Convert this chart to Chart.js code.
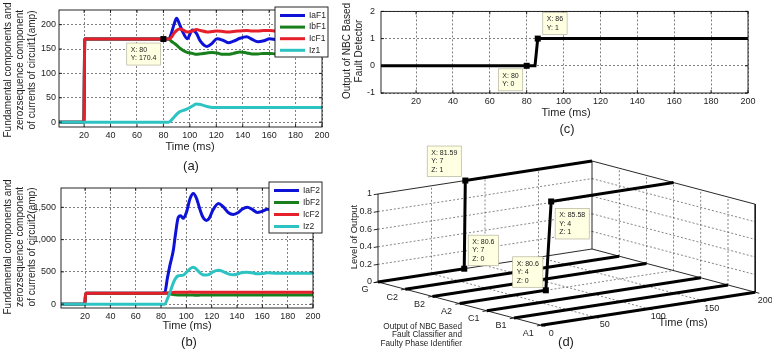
<!DOCTYPE html>
<html>
<head>
<meta charset="utf-8">
<script src="https://cdn.jsdelivr.net/npm/chart.js@4.4.0/dist/chart.umd.min.js"></script>
<style>
html, body { margin: 0; padding: 0; background: #fff; }
#wrap { position: relative; width: 772px; height: 353px; overflow: hidden; }
canvas { position: absolute; left: 0; top: 0; }
</style>
</head>
<body>
<div id="wrap">
  <canvas id="chartA" width="772" height="353"></canvas>
  <canvas id="chartB" width="772" height="353"></canvas>
  <canvas id="chartC" width="772" height="353"></canvas>
  <canvas id="chartD" width="772" height="353"></canvas>
</div>
<script>
// (a) currents of circuit 1
const timeA = [1, 19.8, 20.5, 40, 60, 80, 84, 86, 88, 90, 92, 95, 98, 102, 105, 108, 113, 117, 120.5, 125, 129, 133, 138, 143, 147, 151.5, 156, 160.5, 165, 170, 180, 190, 200]
const iaF1 = [0, 0, 170.4, 170.4, 170.4, 170.4, 170.4, 182, 200, 213, 202, 183, 171, 189, 182, 166, 155, 162, 171, 168, 163, 166, 172, 175, 170, 165, 167, 171, 169, 167, 168, 169, 168]
const ibF1 = [0, 0, 170.4, 170.4, 170.4, 170.4, 170.4, 166, 162, 158, 153, 147, 143, 141, 139, 140, 142, 143, 142, 139, 139, 141, 144, 142, 140, 140, 141, 141, 140, 140, 140, 140, 140]
const icF1 = [0, 0, 170.4, 170.4, 170.4, 170.4, 170.4, 174, 182, 188, 191, 189, 185, 187, 190, 188, 185, 186, 187, 186, 185, 186, 187, 188, 187, 187, 188, 188, 187, 188, 188, 188, 188]
const iz1 = [0, 0, 0, 0, 0, 0, 0, 4, 10, 16, 21, 24, 27, 33, 37, 36, 32, 30, 30, 30, 30, 30, 30, 30, 30, 30, 30, 30, 30, 30, 30, 30, 30]
const timeTicks = [20, 40, 60, 80, 100, 120, 140, 160, 180, 200]
const ampTicksA = [0, 50, 100, 150, 200]
const tipsA = [{ x: 80, y: 170.4 }]

// (b) currents of circuit 2
const timeB = [1, 19.8, 20.5, 40, 60, 80, 83, 85, 87, 89.7, 91.5, 93.6, 95.5, 97.6, 100, 103, 105.5, 108, 111, 113, 115.8, 118, 121, 125.4, 129, 133, 137, 141, 144, 148, 152, 156, 160, 164, 170, 180, 190, 200]
const iaF2 = [0, 0, 170, 170, 170, 170, 185, 400, 600, 835, 1100, 1345, 1370, 1330, 1420, 1640, 1715, 1640, 1450, 1350, 1298, 1330, 1460, 1560, 1510, 1420, 1390, 1420, 1470, 1500, 1470, 1420, 1440, 1470, 1460, 1455, 1460, 1455]
const ibF2 = [0, 0, 170, 170, 170, 170, 170, 168, 160, 150, 145, 142, 140, 140, 141, 142, 140, 138, 140, 141, 140, 140, 141, 142, 140, 140, 141, 140, 140, 141, 140, 140, 140, 140, 140, 140, 140, 140]
const icF2 = [0, 0, 170, 170, 170, 170, 170, 172, 176, 182, 186, 186, 184, 183, 185, 187, 186, 184, 183, 184, 185, 186, 185, 184, 184, 185, 186, 185, 184, 184, 185, 185, 185, 185, 185, 185, 185, 185]
const iz2 = [0, 0, 0, 0, 0, 0, 0, 80, 180, 330, 400, 440, 445, 450, 490, 550, 572, 540, 480, 455, 450, 460, 500, 525, 505, 470, 455, 470, 490, 495, 485, 470, 475, 485, 480, 478, 480, 480]
const ampTicksB = [0, 500, 1000, 1500]

// (c) fault detector output
const timeC = [1, 80, 84.5, 86, 200]
const detector = [0, 0, 0, 1, 1]
const outTicksC = [-1, 0, 1, 2]
const tipsC = [{ x: 86, y: 1 }, { x: 80, y: 0 }]

// (d) classifier output, y = 1..7
const classLabels = ["A1", "B1", "C1", "A2", "B2", "C2", "G"]
const flatTime = [0, 200]
const flatLevel = [0, 0]
const timeG = [0, 80.6, 81.59, 200]
const levelG = [0, 0, 1, 1]
const timeA2 = [0, 80.6, 85.58, 200]
const levelA2 = [0, 0, 1, 1]
const timeTicksD = [0, 50, 100, 150, 200]
const levelTicks = [0, 0.2, 0.4, 0.6, 0.8, 1]
const tipsD = [
    { x: 81.59, y: 7, z: 1 },
    { x: 80.6, y: 7, z: 0 },
    { x: 80.6, y: 4, z: 0 },
    { x: 85.58, y: 4, z: 1 },
]

const FONT = '"Liberation Sans", Arial, Helvetica, sans-serif'
const INK = "#1e1e1e"

const series = (times, values) => times.map((t, i) => ({ x: t, y: values[i] }))

const drawText = (ctx, chart, t, locate) => {
    let x = t.x
    let y = t.y
    if (t.at) {
        const p = locate(chart, t.at)
        x = p.x + (t.dx || 0)
        y = p.y + (t.dy || 0)
    }
    const size = t.size || 10
    const lines = [].concat(t.text)
    const lh = t.lh || size * 1.2
    ctx.save()
    ctx.font = `${size}px ${FONT}`
    ctx.fillStyle = INK
    ctx.textAlign = t.align || "center"
    ctx.textBaseline = "middle"
    ctx.translate(x, y)
    if (t.rot) ctx.rotate(t.rot)
    lines.forEach((line, i) => ctx.fillText(line, 0, (i - (lines.length - 1) / 2) * lh))
    ctx.restore()
}

const drawTip = (ctx, m, tip) => {
    ctx.save()
    ctx.font = `7px ${FONT}`
    const w = Math.max(...tip.lines.map((l) => ctx.measureText(l).width)) + 8
    const h = tip.lines.length * 8.5 + 5
    const bx = tip.side === "right" ? m.x + tip.gx : m.x - tip.gx - w
    const by = tip.vert === "down" ? m.y + tip.gy : m.y - tip.gy - h
    ctx.fillStyle = "#ffffe1"
    ctx.fillRect(bx, by, w, h)
    ctx.strokeStyle = "#b4b49c"
    ctx.lineWidth = 0.7
    ctx.strokeRect(bx, by, w, h)
    ctx.fillStyle = "#222"
    ctx.textAlign = "left"
    ctx.textBaseline = "middle"
    tip.lines.forEach((l, i) => ctx.fillText(l, bx + 4, by + 6.8 + i * 8.5))
    ctx.fillStyle = "#000"
    ctx.fillRect(m.x - 3, m.y - 3, 6, 6)
    ctx.restore()
}

const drawLegend = (ctx, chart, lg) => {
    ctx.save()
    ctx.fillStyle = "#fff"
    ctx.fillRect(lg.x, lg.y, lg.w, lg.h)
    ctx.strokeStyle = "#111"
    ctx.lineWidth = 0.9
    ctx.strokeRect(lg.x, lg.y, lg.w, lg.h)
    ctx.font = `8.5px ${FONT}`
    ctx.textAlign = "left"
    ctx.textBaseline = "middle"
    chart.data.datasets.forEach((ds, i) => {
        const yy = lg.y + lg.first + i * lg.step
        ctx.strokeStyle = ds.borderColor
        ctx.lineWidth = 3
        ctx.beginPath()
        ctx.moveTo(lg.l0, yy)
        ctx.lineTo(lg.l1, yy)
        ctx.stroke()
        ctx.fillStyle = INK
        ctx.fillText(ds.label, lg.tx, yy)
    })
    ctx.restore()
}

const locate2d = (chart, p) => ({
    x: chart.scales.x.getPixelForValue(p.x),
    y: chart.scales.y.getPixelForValue(p.y),
})

const makeDecor = (cfg) => ({
    id: "decor",
    afterDatasetsDraw(chart) {
        const ctx = chart.ctx
        const a = chart.chartArea
        const locate = cfg.locate || locate2d
        if (cfg.frame) {
            const { x, y } = chart.scales
            ctx.save()
            ctx.strokeStyle = "#111"
            ctx.lineWidth = 0.9
            ctx.strokeRect(a.left, a.top, a.right - a.left, a.bottom - a.top)
            ctx.beginPath()
            x.ticks.forEach((tk) => {
                const px = x.getPixelForValue(tk.value)
                ctx.moveTo(px, a.bottom)
                ctx.lineTo(px, a.bottom - 3)
                ctx.moveTo(px, a.top)
                ctx.lineTo(px, a.top + 3)
            })
            y.ticks.forEach((tk) => {
                const py = y.getPixelForValue(tk.value)
                ctx.moveTo(a.left, py)
                ctx.lineTo(a.left + 3, py)
                ctx.moveTo(a.right, py)
                ctx.lineTo(a.right - 3, py)
            })
            ctx.stroke()
            ctx.restore()
        }
        if (cfg.legend) drawLegend(ctx, chart, cfg.legend)
        ;(cfg.tips || []).forEach((tip) => drawTip(ctx, locate(chart, tip.at), tip))
        ;(cfg.texts || []).forEach((t) => drawText(ctx, chart, t, locate))
    },
})

const tickScale = (min, max, ticks, size, padding) => ({
    type: "linear",
    min,
    max,
    afterBuildTicks: (s) => {
        s.ticks = ticks.map((v) => ({ value: v }))
    },
    afterFit: (s) => {
        if (s.isHorizontal()) s.height = size
        else s.width = size
    },
    grid: { color: "#2a2a2a", lineWidth: 0.6, drawTicks: false },
    border: { display: false, dash: [2, 2] },
    ticks: {
        color: INK,
        font: { family: FONT, size: 9 },
        padding,
        autoSkip: false,
        maxRotation: 0,
    },
})

const curve = (label, times, values, color, order) => ({
    label,
    data: series(times, values),
    borderColor: color,
    borderWidth: 3,
    pointRadius: 0,
    cubicInterpolationMode: "monotone",
    order,
})

const lineChart = (id, datasets, scales, padding, decor) =>
    new Chart(document.getElementById(id), {
        type: "line",
        data: { datasets },
        options: {
            animation: false,
            responsive: false,
            layout: { padding },
            plugins: { legend: { display: false }, tooltip: { enabled: false } },
            scales,
        },
        plugins: [makeDecor(decor)],
    })

const BLUE = "#0d12d6"
const GREEN = "#17801c"
const RED = "#e5202a"
const CYAN = "#2dc3c3"
const tipLines = (p) => ["X: " + p.x, "Y: " + p.y].concat(p.z === undefined ? [] : ["Z: " + p.z])

// ---- (a)
lineChart(
    "chartA",
    [
        curve("IaF1", timeA, iaF1, BLUE, 4),
        curve("IbF1", timeA, ibF1, GREEN, 3),
        curve("IcF1", timeA, icF1, RED, 2),
        curve("Iz1", timeA, iz1, CYAN, 1),
    ],
    { x: tickScale(1, 200, timeTicks, 20, 3), y: tickScale(-10, 230, ampTicksA, 30, 3) },
    { left: 29, top: 10, right: 450, bottom: 206 },
    {
        frame: true,
        legend: { x: 275, y: 7, w: 53, h: 50, first: 8.5, step: 11.6, l0: 280, l1: 305, tx: 309 },
        tips: [{ at: tipsA[0], lines: tipLines(tipsA[0]), side: "left", gx: 3, vert: "down", gy: 4 }],
        texts: [
            { text: ["Fundamental components and", "zerozsequence component", "of currents of circuit1(amp)"], x: 20, y: 70, rot: -Math.PI / 2, size: 10, lh: 12 },
            { text: "Time (ms)", x: 190, y: 147, size: 11 },
            { text: "(a)", x: 191, y: 166, size: 13 },
        ],
    }
)

// ---- (b)
lineChart(
    "chartB",
    [
        curve("IaF2", timeB, iaF2, BLUE, 4),
        curve("IbF2", timeB, ibF2, GREEN, 3),
        curve("IcF2", timeB, icF2, RED, 2),
        curve("Iz2", timeB, iz2, CYAN, 1),
    ],
    { x: tickScale(1, 200, timeTicks, 20, 3), y: tickScale(-60, 1800, ampTicksB, 30, 5) },
    { left: 31, top: 188, right: 459, bottom: 25 },
    {
        frame: true,
        legend: { x: 269, y: 182, w: 53, h: 51, first: 8.5, step: 12, l0: 274, l1: 299, tx: 303 },
        texts: [
            { text: ["Fundamental components and", "zerozsequence component", "of currents of circuit2(amp)"], x: 20, y: 247, rot: -Math.PI / 2, size: 10, lh: 12 },
            { text: "Time (ms)", x: 187, y: 326, size: 11 },
            { text: "(b)", x: 189, y: 342, size: 13 },
        ],
    }
)

// ---- (c)
lineChart(
    "chartC",
    [
        {
            label: "detector",
            data: series(timeC, detector),
            borderColor: "#000",
            borderWidth: 3,
            pointRadius: 0,
            tension: 0,
        },
    ],
    { x: tickScale(1, 200, timeTicks, 20, 3), y: tickScale(-1, 2, outTicksC, 30, 6) },
    { left: 351, top: 9, right: 24, bottom: 240 },
    {
        frame: true,
        tips: [
            { at: tipsC[0], lines: tipLines(tipsC[0]), side: "right", gx: 5, vert: "up", gy: 4 },
            { at: tipsC[1], lines: tipLines(tipsC[1]), side: "left", gx: 4, vert: "down", gy: 3 },
        ],
        texts: [
            { text: ["Output of NBC Based", "Fault Detector"], x: 353, y: 51, rot: -Math.PI / 2, size: 10, lh: 12 },
            { text: "Time (ms)", x: 566, y: 113, size: 11 },
            { text: "(c)", x: 567, y: 129, size: 13 },
        ],
    }
)

// ---- (d) 3-D view projected onto the canvas plane
const P0 = { x: 378, y: 282 } // (time 0, class G, level 0)
const TV = { x: 1.07, y: -0.165 } // per ms
const CV = { x: 27.2, y: 7.2 } // per class step towards A1
const ZV = 88 // per output unit
const proj = (t, c, z) => ({
    x: P0.x + TV.x * t + CV.x * (7 - c),
    y: P0.y + TV.y * t + CV.y * (7 - c) - ZV * z,
})

const edge = { borderColor: "#111", borderWidth: 0.9 }
const dash = { borderColor: "#333", borderWidth: 0.6, borderDash: [2, 2] }
const path = (pts, style, order) => ({
    data: pts.map((p) => proj(p[0], p[1], p[2])),
    showLine: true,
    pointRadius: 0,
    fill: false,
    tension: 0,
    order,
    ...style,
})

const dSets = []
// class output lines
for (let c = 1; c <= 7; c++) {
    let times = flatTime
    let levels = flatLevel
    if (c === 7) {
        times = timeG
        levels = levelG
    }
    if (c === 4) {
        times = timeA2
        levels = levelA2
    }
    dSets.push(path(times.map((t, i) => [t, c, levels[i]]), { borderColor: "#000", borderWidth: 3 }, 1))
}
// walls and floor grid
const innerTime = timeTicksD.slice(1, -1)
const innerLevel = levelTicks.slice(1, -1)
innerTime.forEach((t) => {
    dSets.push(path([[t, 7, 0], [t, 7, 1]], dash, 5))
    dSets.push(path([[t, 7, 0], [t, 1, 0]], dash, 5))
})
innerLevel.forEach((z) => {
    dSets.push(path([[0, 7, z], [200, 7, z]], dash, 5))
    dSets.push(path([[200, 7, z], [200, 1, z]], dash, 5))
})
for (let c = 2; c <= 6; c++) {
    dSets.push(path([[200, c, 0], [200, c, 1]], dash, 5))
    dSets.push(path([[0, c, 0], [200, c, 0]], dash, 5))
}
// box edges
;[
    [[0, 7, 0], [0, 7, 1]],
    [[0, 7, 1], [200, 7, 1]],
    [[200, 7, 1], [200, 1, 1]],
    [[200, 1, 1], [200, 1, 0]],
    [[200, 7, 0], [200, 7, 1]],
    [[0, 7, 0], [200, 7, 0]],
    [[200, 7, 0], [200, 1, 0]],
    [[0, 7, 0], [0, 1, 0]],
    [[0, 1, 0], [200, 1, 0]],
].forEach((e) => dSets.push(path(e, edge, 3)))
// axis tick marks
levelTicks.forEach((z) => dSets.push(path([[0, 7, z], [-4, 7, z]], edge, 3)))
timeTicksD.forEach((t) => dSets.push(path([[t, 1, 0], [t, 0.85, 0]], edge, 3)))
classLabels.forEach((l, i) => dSets.push(path([[0, i + 1, 0], [-4, i + 1, 0]], edge, 3)))

const locate3d = (chart, p) => {
    const q = proj(p.x, p.y, p.z)
    return { x: chart.scales.x.getPixelForValue(q.x), y: chart.scales.y.getPixelForValue(q.y) }
}

const dTexts = [
    ...levelTicks.map((z) => ({ text: String(z), at: { x: 0, y: 7, z }, dx: -6, dy: 0, align: "right", size: 9 })),
    ...classLabels.map((l, i) => ({ text: l, at: { x: 0, y: i + 1, z: 0 }, dx: -13, dy: 8, size: 9 })),
    ...timeTicksD.map((t) => ({ text: String(t), at: { x: t, y: 1, z: 0 }, dx: 10, dy: 8, size: 9 })),
    { text: "Time (ms)", x: 683, y: 323, size: 11 },
    { text: "Level of Output", x: 354, y: 237, rot: -Math.PI / 2, size: 9.5 },
    { text: ["Output of NBC Based", "Fault Classifier and", "Faulty Phase Identifier"], x: 462, y: 335, align: "right", size: 8.2, lh: 8.6 },
    { text: "(d)", x: 566, y: 342, size: 13 },
]

new Chart(document.getElementById("chartD"), {
    type: "scatter",
    data: { datasets: dSets },
    options: {
        animation: false,
        responsive: false,
        layout: { padding: 0 },
        plugins: { legend: { display: false }, tooltip: { enabled: false } },
        scales: {
            x: { type: "linear", min: 0, max: 772, display: false },
            y: { type: "linear", min: 0, max: 353, reverse: true, display: false },
        },
    },
    plugins: [
        makeDecor({
            locate: locate3d,
            tips: [
                { at: tipsD[0], lines: tipLines(tipsD[0]), side: "left", gx: 4, vert: "up", gy: 4 },
                { at: tipsD[1], lines: tipLines(tipsD[1]), side: "right", gx: 4, vert: "up", gy: 3 },
                { at: tipsD[2], lines: tipLines(tipsD[2]), side: "left", gx: 3, vert: "up", gy: 3 },
                { at: tipsD[3], lines: tipLines(tipsD[3]), side: "right", gx: 4, vert: "down", gy: 7 },
            ],
            texts: dTexts,
        }),
    ],
})
</script>
</body>
</html>
